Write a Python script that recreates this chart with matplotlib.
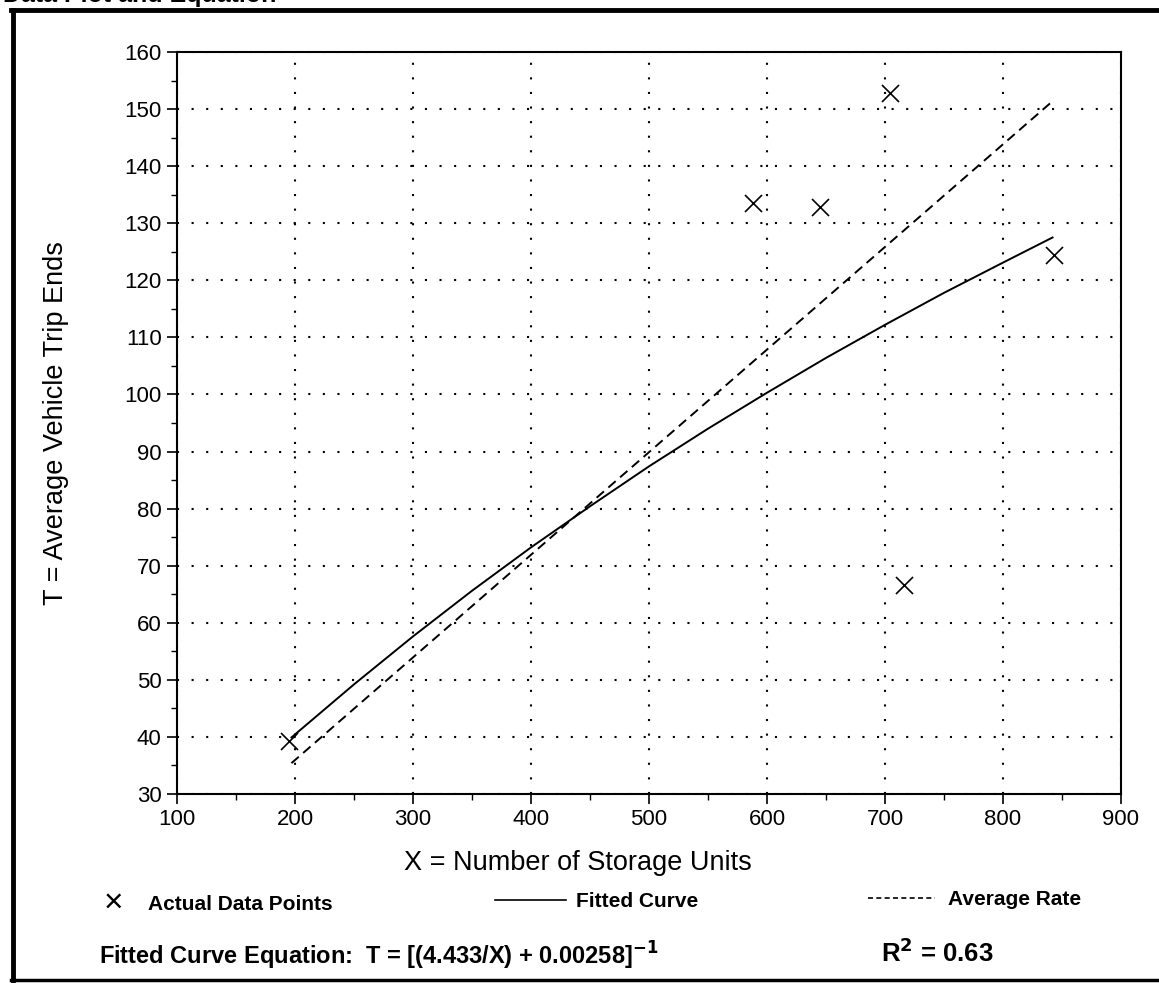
import matplotlib
matplotlib.use("Agg")
import matplotlib.pyplot as plt
from matplotlib.lines import Line2D
from matplotlib.ticker import MultipleLocator

plt.rcParams['font.family'] = ['Liberation Sans', 'DejaVu Sans']

# observed data points (storage units, trip ends)
unidades = [195, 588, 645, 704, 716, 843]
viagens = [39.3, 133.6, 132.8, 152.8, 66.6, 124.5]

# fitted curve
curvaX = [197, 250, 300, 350, 400, 450, 500, 550, 600, 650, 700, 750, 800, 842]
curvaY = [39.9, 49.2, 57.6, 65.6, 73.2, 80.4, 87.4, 94.0, 100.3, 106.4, 112.2, 117.8, 123.1, 127.5]

# average rate, dashed line end points
mediaX = [197, 841]
mediaY = [35.4, 151.2]

xticks = [100, 200, 300, 400, 500, 600, 700, 800, 900]
yticks = [30, 40, 50, 60, 70, 80, 90, 100, 110, 120, 130, 140, 150, 160]

fig = plt.figure(figsize=(11.59, 9.83), dpi=100)
ax = fig.add_axes([0.1527, 0.1923, 0.8145, 0.7548])

ax.plot(curvaX, curvaY, color="black", lw=1.4)
ax.plot(mediaX, mediaY, color="black", lw=1.4, linestyle=(0, (5, 3)))
ax.scatter(unidades, viagens, marker="x", s=150, color="black", linewidths=1.2, zorder=3)

ax.set_xlim(100, 900)
ax.set_ylim(30, 160)
ax.set_xticks(xticks)
ax.set_yticks(yticks)
ax.xaxis.set_minor_locator(MultipleLocator(50))
ax.yaxis.set_minor_locator(MultipleLocator(5))
ax.tick_params(which="major", direction="out", length=7, width=1.2, labelsize=16, pad=4)
ax.tick_params(which="minor", direction="out", length=4, width=1.0)
ax.grid(True, which="major", color="black", linestyle=(0, (1, 6)), linewidth=1.5)
for s in ax.spines.values():
    s.set_linewidth(1.5)

ax.set_xlabel("X = Number of Storage Units", fontsize=19.5)
ax.xaxis.set_label_coords(0.425, -0.0755)
ax.set_ylabel("T = Average Vehicle Trip Ends", fontsize=19.5)
ax.yaxis.set_label_coords(-0.114, 0.5)

# outer frame
fig.add_artist(Line2D([0.0110, 0.0110], [0.003, 0.9895], transform=fig.transFigure, color="black", lw=3.5))
fig.add_artist(Line2D([0.0095, 1.0], [0.9895, 0.9895], transform=fig.transFigure, color="black", lw=3.5))
fig.add_artist(Line2D([0.0095, 1.0], [0.003, 0.003], transform=fig.transFigure, color="black", lw=2.5))

# cut-off heading above the frame
fig.text(0.003, 1.005, "Data Plot and Equation", fontsize=18, fontweight="bold", va="center", ha="left")

# legend row
fonteLeg = dict(fontsize=15, fontweight="bold")
fig.text(0.0975, 0.081, "\u00d7", fontsize=24, va="center", ha="center")
fig.text(0.128, 0.080, "Actual Data Points", va="center", ha="left", **fonteLeg)
fig.add_artist(Line2D([0.427, 0.488], [0.084, 0.084], transform=fig.transFigure, color="black", lw=1.2))
fig.text(0.497, 0.083, "Fitted Curve", va="center", ha="left", **fonteLeg)
fig.add_artist(Line2D([0.749, 0.807], [0.086, 0.086], transform=fig.transFigure, color="black", lw=1.2, linestyle=(0, (3, 2))))
fig.text(0.818, 0.085, "Average Rate", va="center", ha="left", **fonteLeg)

fonteEq = dict(fontsize=17, fontweight="bold")
fig.text(0.085, 0.028, "Fitted Curve Equation:  T = [(4.433/X) + 0.00258]$^{\\mathbf{-1}}$", va="center", ha="left", **fonteEq)
fig.text(0.760, 0.031, "R$^{\\mathbf{2}}$ = 0.63", va="center", ha="left", fontsize=18.5, fontweight="bold")

fig.savefig("out.png", dpi=100)
